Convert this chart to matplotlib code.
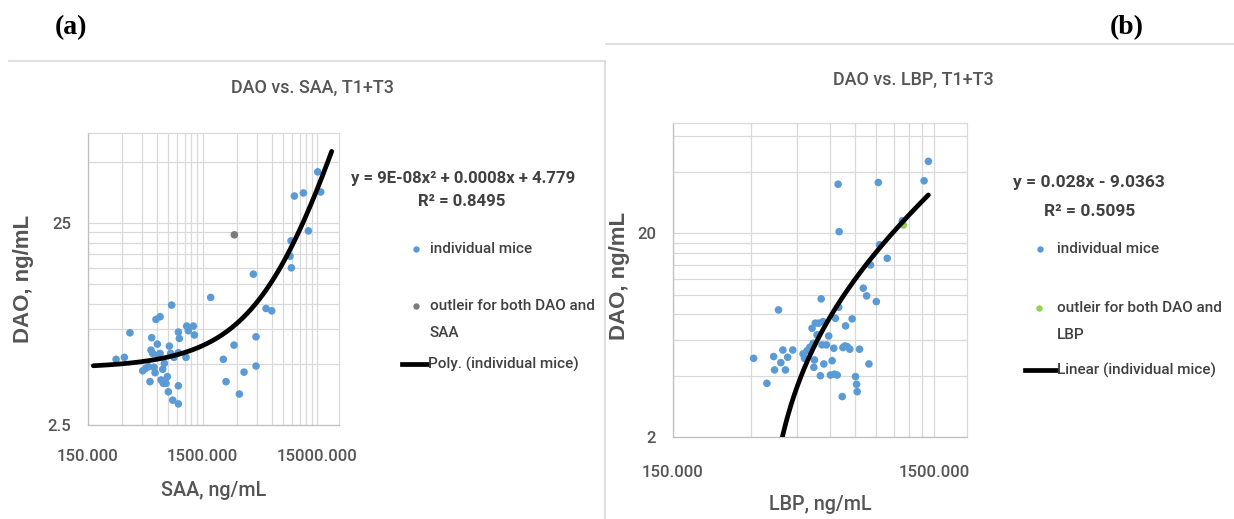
import numpy as np
import matplotlib
matplotlib.use("Agg")
import matplotlib.pyplot as plt
from matplotlib import font_manager as fm
from matplotlib.ticker import FixedLocator, FuncFormatter, NullFormatter
from matplotlib.lines import Line2D

# ---------------- data ----------------
# (a) DAO vs SAA
saa_mice = [265, 313, 350, 452, 480, 506, 523, 534, 541, 552, 567, 579, 590, 606, 619,
            640, 640, 653, 675, 684, 698, 721, 741, 756, 771, 792, 808, 825, 847, 924,
            924, 924, 924, 942, 1077, 1092, 1129, 1248, 1274, 1767, 2278, 2404, 2822,
            3141, 3449, 4158, 4386, 4386, 5362, 6007, 8675, 8853, 8910, 9463, 11334,
            12532, 15110, 16050]
dao_saa_mice = [5.29, 5.41, 7.16, 4.64, 4.77, 4.86, 4.10, 5.88, 6.77, 5.66, 4.83, 4.54,
                8.34, 6.29, 5.55, 8.60, 5.66, 4.18, 4.72, 4.02, 5.05, 4.02, 4.34, 3.65,
                6.15, 5.66, 9.82, 3.32, 5.41, 3.18, 3.91, 5.70, 7.22, 6.71, 5.41, 7.73,
                7.33, 7.73, 6.98, 10.72, 5.29, 4.10, 6.22, 3.56, 4.57, 13.98, 6.84, 4.90,
                9.45, 9.20, 17.17, 20.44, 15.03, 34.1, 35.3, 22.9, 44.9, 35.7]
saa_outlier = [2840]
dao_saa_outlier = [21.9]
poly_coef = [9e-08, 0.0008, 4.779]      # y = a x^2 + b x + c
poly_r2 = 0.8495
poly_span = [168, 20000]

# (b) DAO vs LBP
lbp_mice = [306, 344, 365, 368, 381, 389, 396, 405, 413, 432, 473, 479, 490, 502, 512,
            517, 520, 523, 527, 535, 543, 551, 555, 559, 564, 568, 581, 593, 602, 611,
            620, 624, 629, 639, 644, 648, 650, 668, 672, 684, 688, 698, 714, 729, 751,
            758, 762, 778, 804, 828, 845, 857, 902, 918, 928, 993, 1134, 1374, 1427]
dao_lbp_mice = [4.87, 3.67, 4.97, 4.27, 8.42, 4.64, 5.35, 4.27, 4.93, 5.35, 5.12, 4.87,
                5.31, 5.52, 6.84, 5.77, 4.40, 4.78, 7.25, 6.35, 7.25, 4.00, 9.54, 5.67,
                7.38, 4.57, 5.67, 6.27, 4.03, 4.74, 5.46, 4.07, 7.66, 4.03, 34.9, 8.68,
                20.4, 3.16, 5.50, 5.60, 7.03, 5.56, 5.40, 7.61, 3.96, 3.63, 3.34, 5.40,
                10.77, 9.87, 4.57, 14.0, 9.25, 35.6, 17.6, 15.1, 23.1, 36.3, 45.2]
lbp_outlier = [1144]
dao_lbp_outlier = [22.0]
lin_coef = [0.028, -9.0363]             # y = m x + q
lin_r2 = 0.5095

# ---------------- fonts ----------------
_installed = {f.name for f in fm.fontManager.ttflist}
if 'Liberation Sans Narrow' in _installed:
    BODY, K, MED = ['Liberation Sans Narrow', 'DejaVu Sans'], 1.0, 'normal'
elif 'Roboto' in _installed:
    BODY, K, MED = ['Roboto', 'DejaVu Sans'], 0.86, 'medium'
else:
    BODY, K, MED = ['Liberation Sans', 'DejaVu Sans'], 0.83, 'normal'
WIDE = ['Liberation Sans', 'DejaVu Sans']
SERIF = ['Liberation Serif', 'DejaVu Serif']
plt.rcParams['font.family'] = BODY

# ---------------- style ----------------
W, H, DPI = 1234, 519, 100
BLUE = '#5B9BD5'
GREY_PT = '#7B7B7B'
GREEN = '#92D050'
GRID = '#D9D9D9'
TXT = '#555555'
TXT_DARK = '#404040'

fig = plt.figure(figsize=(W / DPI, H / DPI), dpi=DPI)


def rect(l, t, r, b):
    return [l / W, 1 - b / H, (r - l) / W, (b - t) / H]


def fx(x):
    return x / W


def fy(y):
    return 1 - y / H


def log_ticks(base, lo, hi):
    major, minor = [], []
    for n in range(-2, 5):
        m = base * 10.0 ** n
        major.append(m)
        minor.extend(m * k for k in range(2, 10))
    major = [v for v in major if lo * 0.999 <= v <= hi * 1.001]
    minor = [v for v in minor if lo < v < hi]
    return major, minor


def style_axes(ax, xlim, ylim, xbase, ybase, xpad, ypad):
    ax.set_xscale('log')
    ax.set_yscale('log')
    ax.set_xlim(xlim)
    ax.set_ylim(ylim)
    xmaj, xmin = log_ticks(xbase, *xlim)
    ymaj, ymin = log_ticks(ybase, *ylim)
    ax.xaxis.set_major_locator(FixedLocator(xmaj))
    ax.xaxis.set_minor_locator(FixedLocator(xmin))
    ax.yaxis.set_major_locator(FixedLocator(ymaj))
    ax.yaxis.set_minor_locator(FixedLocator(ymin))
    ax.xaxis.set_major_formatter(FuncFormatter(lambda v, p: f"{v:.3f}"))
    ax.yaxis.set_major_formatter(FuncFormatter(lambda v, p: f"{v:g}"))
    ax.xaxis.set_minor_formatter(NullFormatter())
    ax.yaxis.set_minor_formatter(NullFormatter())
    ax.grid(True, which='both', color=GRID, lw=0.9)
    ax.set_axisbelow(True)
    ax.tick_params(which='both', length=0, labelsize=14 * K, labelcolor=TXT)
    for lab in ax.get_xticklabels() + ax.get_yticklabels():
        lab.set_fontweight(MED)
    ax.tick_params(axis='x', pad=xpad)
    ax.tick_params(axis='y', pad=ypad)
    for s in ax.spines.values():
        s.set_color(GRID)
        s.set_linewidth(0.9)
    for s in ('left', 'bottom'):
        ax.spines[s].set_color('#BFBFBF')


# ---------------- panel (a) ----------------
axa = fig.add_axes(rect(87.7, 133, 339.3, 425))
style_axes(axa, (150, 23300), (2.5, 70), 150, 2.5, 17, 12)
axa.scatter(saa_mice, dao_saa_mice, s=30, color=BLUE, edgecolors='none', zorder=3)
axa.scatter(saa_outlier, dao_saa_outlier, s=30, color=GREY_PT, edgecolors='none', zorder=3)
xa = np.geomspace(poly_span[0], poly_span[1], 400)
axa.plot(xa, np.polyval(poly_coef, xa), color='black', lw=3.4, zorder=4,
         solid_capstyle='round')

# ---------------- panel (b) ----------------
axb = fig.add_axes(rect(672.7, 122.7, 966.7, 437))
style_axes(axb, (150, 2000), (2, 70), 150, 2, 20, 12)
axb.scatter(lbp_outlier, dao_lbp_outlier, s=30, color=GREEN, edgecolors='none', zorder=3)
axb.scatter(lbp_mice, dao_lbp_mice, s=30, color=BLUE, edgecolors='none', zorder=3)
xb = np.geomspace(min(lbp_mice), max(lbp_mice), 400)
yb = np.polyval(lin_coef, xb)
yb = np.where(yb > 0, yb, np.nan)
axb.plot(xb, yb, color='black', lw=3.4, zorder=4, solid_capstyle='round')

# ---------------- titles / axis labels ----------------
fig.text(fx(312), fy(88), 'DAO vs. SAA, T1+T3', ha='center', va='center',
         fontsize=15 * K, color=TXT, fontweight=MED)
fig.text(fx(913), fy(80), 'DAO vs. LBP, T1+T3', ha='center', va='center',
         fontsize=15 * K, color=TXT, fontweight=MED)
fig.text(fx(214), fy(491), 'SAA, ng/mL', ha='center', va='center', fontsize=16.5 * K,
         color=TXT, fontweight=MED)
fig.text(fx(820), fy(505), 'LBP, ng/mL', ha='center', va='center', fontsize=16.5 * K,
         color=TXT, fontweight=MED)
fig.text(fx(23), fy(279), 'DAO, ng/mL', ha='center', va='center', rotation=90,
         fontsize=16, fontweight='bold', color=TXT, family=WIDE)
fig.text(fx(620), fy(276), 'DAO, ng/mL', ha='center', va='center', rotation=90,
         fontsize=16, fontweight='bold', color=TXT, family=WIDE)

# panel letters
fig.text(fx(71), fy(28), '(a)', ha='center', va='center', fontsize=20,
         fontweight='bold', family=SERIF, color='black')
fig.text(fx(1127), fy(28), '(b)', ha='center', va='center', fontsize=20,
         fontweight='bold', family=SERIF, color='black')

# chart frames
fig.add_artist(Line2D([fx(9), fx(605)], [fy(61), fy(61)], color=GRID, lw=1.2))
fig.add_artist(Line2D([fx(605), fx(605)], [fy(61), fy(519)], color=GRID, lw=1.2))
fig.add_artist(Line2D([fx(606), fx(1234)], [fy(44), fy(44)], color=GRID, lw=1.2))

# ---------------- trendline labels and legends ----------------
EQ = 14.0 * K
fig.text(fx(463), fy(178), "y = 9E-08x² + 0.0008x + 4.779", ha='center', va='center',
         fontsize=EQ, fontweight='bold', color=TXT_DARK)
fig.text(fx(462), fy(201), f"R² = {poly_r2}", ha='center', va='center',
         fontsize=EQ, fontweight='bold', color=TXT_DARK)
fig.text(fx(1089), fy(182), f"y = {lin_coef[0]}x - {abs(lin_coef[1])}", ha='center',
         va='center', fontsize=EQ * 1.04, fontweight='bold', color=TXT_DARK)
fig.text(fx(1090), fy(212), f"R² = {lin_r2}", ha='center', va='center',
         fontsize=EQ * 1.04, fontweight='bold', color=TXT_DARK)


def legend_dot(x, y, color):
    fig.add_artist(Line2D([fx(x)], [fy(y)], marker='o', ms=4.6, color=color, mec='none',
                          lw=0))


def legend_text(x, y, s):
    fig.text(fx(x), fy(y), s, ha='left', va='center', fontsize=12.8 * K,
             color=TXT_DARK, fontweight=MED)


legend_dot(416, 249, BLUE)
legend_text(430, 249, 'individual mice')
legend_dot(416, 306, GREY_PT)
legend_text(430, 306, 'outleir for both DAO and')
legend_text(430, 333, 'SAA')
fig.add_artist(Line2D([fx(402), fx(428)], [fy(364), fy(364)], color='black', lw=3.4))
legend_text(428, 364, 'Poly. (individual mice)')

legend_dot(1040, 249, BLUE)
legend_text(1057, 249, 'individual mice')
legend_dot(1039, 308, GREEN)
legend_text(1057, 308, 'outleir for both DAO and')
legend_text(1057, 335, 'LBP')
fig.add_artist(Line2D([fx(1025), fx(1057)], [fy(370), fy(370)], color='black', lw=3.4))
legend_text(1057, 370, 'Linear (individual mice)')

fig.savefig('out.png', dpi=DPI, facecolor='white')
